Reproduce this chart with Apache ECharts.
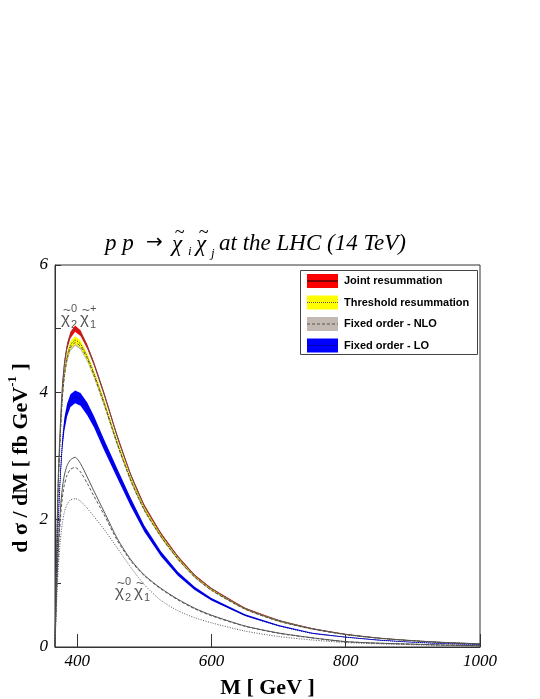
<!DOCTYPE html>
<html>
<head>
<meta charset="utf-8">
<script src="https://cdn.jsdelivr.net/npm/echarts@6/dist/echarts.min.js"></script>
<style>
  html, body { margin: 0; padding: 0; background: #fff; }
  #main { width: 540px; height: 699px; }
</style>
</head>
<body>
<div id="main"></div>
<script>
// invariant mass grid (GeV)
var mass = [367, 369, 372, 375, 378, 381, 385, 390, 397, 405, 415, 425, 440, 460, 480, 500, 525, 550, 575, 600, 650, 700, 750, 800, 850, 900, 950, 1000];

// chi2^0 chi1^+ : central values (fb/GeV)
var jointC   = [0, 1.3, 2.7, 3.5, 4.1, 4.45, 4.72, 4.9, 5.0, 4.93, 4.72, 4.45, 3.98, 3.3, 2.7, 2.22, 1.78, 1.42, 1.13, 0.92, 0.61, 0.42, 0.29, 0.2, 0.14, 0.1, 0.07, 0.05];
var threshC  = [0, 1.25, 2.6, 3.38, 3.95, 4.3, 4.56, 4.74, 4.82, 4.76, 4.56, 4.3, 3.85, 3.2, 2.63, 2.17, 1.74, 1.39, 1.11, 0.9, 0.6, 0.41, 0.285, 0.197, 0.138, 0.098, 0.069, 0.049];
var nloC     = [0, 1.22, 2.56, 3.34, 3.91, 4.26, 4.52, 4.7, 4.78, 4.72, 4.53, 4.27, 3.82, 3.18, 2.61, 2.15, 1.73, 1.38, 1.1, 0.89, 0.595, 0.405, 0.282, 0.195, 0.137, 0.097, 0.068, 0.048];
var loC      = [0, 0.9, 2.0, 2.7, 3.2, 3.5, 3.72, 3.87, 3.93, 3.89, 3.74, 3.54, 3.18, 2.72, 2.27, 1.86, 1.46, 1.15, 0.92, 0.75, 0.5, 0.335, 0.215, 0.155, 0.107, 0.075, 0.052, 0.036];

// half widths of the scale bands
var jointW   = [0, 0.02, 0.03, 0.04, 0.05, 0.05, 0.05, 0.05, 0.05, 0.045, 0.035, 0.03, 0.03, 0.025, 0.02, 0.018, 0.015, 0.012, 0.01, 0.008, 0.006, 0.005, 0.004, 0.003, 0.003, 0.002, 0.002, 0.002];
var threshW  = [0, 0.02, 0.04, 0.05, 0.06, 0.06, 0.06, 0.06, 0.06, 0.06, 0.055, 0.05, 0.045, 0.04, 0.035, 0.03, 0.025, 0.02, 0.016, 0.013, 0.01, 0.008, 0.006, 0.005, 0.004, 0.003, 0.002, 0.002];
var nloW     = [0, 0.02, 0.03, 0.04, 0.05, 0.05, 0.05, 0.05, 0.05, 0.05, 0.05, 0.045, 0.04, 0.035, 0.03, 0.025, 0.02, 0.018, 0.015, 0.012, 0.01, 0.008, 0.006, 0.005, 0.004, 0.003, 0.002, 0.002];
var loW      = [0, 0.03, 0.06, 0.08, 0.09, 0.1, 0.1, 0.1, 0.1, 0.1, 0.1, 0.09, 0.085, 0.075, 0.065, 0.05, 0.04, 0.03, 0.025, 0.02, 0.015, 0.01, 0.008, 0.006, 0.005, 0.004, 0.003, 0.002];

// chi2^0 chi1^- : central values only
var minusJoint = [0, 0.8, 1.6, 2.15, 2.5, 2.7, 2.85, 2.94, 2.98, 2.88, 2.67, 2.45, 2.13, 1.7, 1.37, 1.13, 0.92, 0.75, 0.61, 0.5, 0.33, 0.22, 0.145, 0.085, 0.06, 0.045, 0.03, 0.02];
var minusNlo   = [0, 0.75, 1.5, 2.02, 2.35, 2.55, 2.7, 2.79, 2.82, 2.75, 2.57, 2.37, 2.08, 1.67, 1.35, 1.12, 0.91, 0.74, 0.6, 0.49, 0.325, 0.215, 0.142, 0.083, 0.058, 0.043, 0.029, 0.019];
var minusLo    = [0, 0.6, 1.25, 1.68, 1.95, 2.12, 2.24, 2.31, 2.33, 2.29, 2.18, 2.05, 1.85, 1.55, 1.25, 0.98, 0.73, 0.57, 0.46, 0.38, 0.25, 0.165, 0.11, 0.07, 0.05, 0.035, 0.025, 0.015];

var xTicks = [400, 600, 800, 1000];
var legendNames = ['Joint resummation', 'Threshold resummation', 'Fixed order - NLO', 'Fixed order - LO'];

var chartDom = document.getElementById('main');
var myChart = echarts.init(chartDom);
var option;

function pairs(vals) {
	return mass.map(function (m, i) { return [m, vals[i]]; });
}

// band drawn as one polygon through the axis coordinates
function band(name, center, half, color) {
	var data = mass.map(function (m, i) { return [m, center[i] - half[i], center[i] + half[i]]; });
	return {
		type: 'custom',
		name: name,
		silent: true,
		clip: true,
		encode: { x: 0, y: [1, 2] },
		data: data,
		renderItem: function (params, api) {
			if (params.dataIndex !== 0) return;
			var top = [], bot = [];
			data.forEach(function (d) {
				top.push(api.coord([d[0], d[2]]));
				bot.unshift(api.coord([d[0], d[1]]));
			});
			return {
				type: 'polygon',
				shape: { points: top.concat(bot), smooth: 0 },
				style: { fill: color, stroke: null }
			};
		}
	};
}

function curve(vals, color, type, width) {
	return {
		type: 'line',
		data: pairs(vals),
		showSymbol: false,
		silent: true,
		smooth: 0.25,
		lineStyle: { color: color, width: width || 1, type: type }
	};
}

var serif = 'Liberation Serif';
var sans = 'Liberation Sans';

function legendRow(i, fill, lineColor, lineType) {
	var y = 274 + i * 21.5;
	return [
		{ type: 'rect', shape: { x: 307, y: y, width: 31, height: 14 }, style: { fill: fill } },
		{ type: 'line', shape: { x1: 307, y1: y + 7, x2: 338, y2: y + 7 }, style: { stroke: lineColor, lineWidth: 1, lineDash: lineType } },
		{ type: 'text', x: 344, y: y + 7, style: { text: legendNames[i], font: 'bold 11px ' + sans, fill: '#000', verticalAlign: 'middle' } }
	];
}

// chi with a tilde on top
function chi(x, y, size, font, color, style) {
	var st = style ? style + ' ' : '';
	return [
		{ type: 'text', x: x, y: y, style: { text: '\u03C7', font: st + size + 'px ' + font, fill: color, verticalAlign: 'middle' } },
		{ type: 'text', x: x + size * 0.12, y: y - size * 0.52, style: { text: '~', font: size * 0.8 + 'px ' + font, fill: color, verticalAlign: 'middle' } }
	];
}

function chiLabel(x, y, sup) {
	var c = '#555';
	var els = chi(x, y, 17, sans, c).concat(chi(x + 19, y, 17, sans, c));
	els.push(
		{ type: 'text', x: x + 10, y: y - 10, style: { text: '0', font: '11px ' + sans, fill: c, verticalAlign: 'middle' } },
		{ type: 'text', x: x + 10, y: y + 6, style: { text: '2', font: '11px ' + sans, fill: c, verticalAlign: 'middle' } },
		{ type: 'text', x: x + 29, y: y + 6, style: { text: '1', font: '11px ' + sans, fill: c, verticalAlign: 'middle' } }
	);
	if (sup) {
		els.push({ type: 'text', x: x + 29, y: y - 10, style: { text: sup, font: '11px ' + sans, fill: c, verticalAlign: 'middle' } });
	}
	return els;
}

var tf = 'italic 23px ' + serif;
var graphics = [
	{ type: 'text', x: 105, y: 244, style: { text: 'p p', font: tf, fill: '#000', verticalAlign: 'middle' } },
	{ type: 'text', x: 146, y: 243, style: { text: '\u2192', font: '20px DejaVu Sans', fill: '#000', verticalAlign: 'middle' } },
	{ type: 'text', x: 188, y: 252, style: { text: 'i', font: 'italic 13px ' + serif, fill: '#000', verticalAlign: 'middle' } },
	{ type: 'text', x: 211, y: 254, style: { text: 'j', font: 'italic 13px ' + serif, fill: '#000', verticalAlign: 'middle' } },
	{ type: 'text', x: 219, y: 244, style: { text: 'at the LHC (14 TeV)', font: tf, fill: '#000', verticalAlign: 'middle' } },
	{
		type: 'text', x: 21, y: 458, rotation: Math.PI / 2,
		style: {
			text: '{a|d \u03C3 / dM [ fb GeV}{b|-1}{a| ]}',
			align: 'center', verticalAlign: 'middle',
			rich: {
				a: { fontFamily: serif, fontWeight: 'bold', fontSize: 22, fill: '#000', lineHeight: 30 },
				b: { fontFamily: serif, fontWeight: 'bold', fontSize: 13, fill: '#000', lineHeight: 13, verticalAlign: 'top' }
			}
		}
	},
	{ type: 'rect', shape: { x: 300.5, y: 270.5, width: 177, height: 84 }, style: { fill: '#fff', stroke: '#444', lineWidth: 1 }, z: 10 }
];
chi(172, 245, 23, serif, '#000', 'italic').concat(chi(196, 245, 23, serif, '#000', 'italic')).forEach(function (e) { graphics.push(e); });
var rows = [
	legendRow(0, '#ff0000', '#000', null),
	legendRow(1, '#ffff00', '#555', [1, 1]),
	legendRow(2, '#c2bab2', '#555', [3, 2]),
	legendRow(3, '#0000ff', '#000066', [1, 1])
];
rows.forEach(function (r) { r.forEach(function (e) { e.z = 11; graphics.push(e); }); });
chiLabel(61, 319, '+').forEach(function (e) { graphics.push(e); });
chiLabel(115, 592, null).forEach(function (e) { graphics.push(e); });

option = {
	animation: false,
	backgroundColor: '#fff',
	grid: {
		left: 55,
		right: 60,
		top: 265,
		bottom: 52,
		containLabel: false,
		outerBoundsMode: 'none',
		show: true,
		borderColor: '#333',
		borderWidth: 1,
		backgroundColor: 'transparent'
	},
	xAxis: {
		type: 'value',
		min: 367,
		max: 1000,
		name: 'M [ GeV ]',
		nameLocation: 'middle',
		nameGap: 30,
		nameTextStyle: { fontFamily: serif, fontWeight: 'bold', fontSize: 22, color: '#000' },
		axisLine: { lineStyle: { color: '#333' } },
		axisTick: { inside: true, length: 13, customValues: xTicks, lineStyle: { color: '#333' } },
		axisLabel: {
			customValues: xTicks,
			formatter: function (v) { return String(v); },
			fontFamily: serif, fontStyle: 'italic', fontSize: 17, color: '#000', margin: 6
		},
		splitLine: { show: false }
	},
	yAxis: {
		type: 'value',
		min: 0,
		max: 6,
		interval: 2,
		axisLine: { show: true, lineStyle: { color: '#333' } },
		axisTick: { inside: true, length: 6, lineStyle: { color: '#333' } },
		minorTick: { show: true, splitNumber: 2, length: 6, lineStyle: { color: '#333' } },
		axisLabel: { fontFamily: serif, fontStyle: 'italic', fontSize: 17, color: '#000', margin: 7 },
		splitLine: { show: false }
	},
	graphic: graphics,
	series: [
		band('nlo', nloC, nloW, '#c2bab2'),
		band('threshold', threshC, threshW, '#ffff00'),
		band('joint', jointC, jointW, '#ff0000'),
		band('lo', loC, loW, '#0000ff'),
		curve(nloC, '#555', [3, 2]),
		curve(threshC, '#444', [1, 1]),
		curve(jointC, '#555', 'solid'),
		curve(loC, '#000066', [1, 1]),
		curve(minusJoint, '#555', 'solid'),
		curve(minusNlo, '#555', [3, 2]),
		curve(minusLo, '#555', [1, 1.5])
	]
};

option && myChart.setOption(option);
</script>
</body>
</html>
